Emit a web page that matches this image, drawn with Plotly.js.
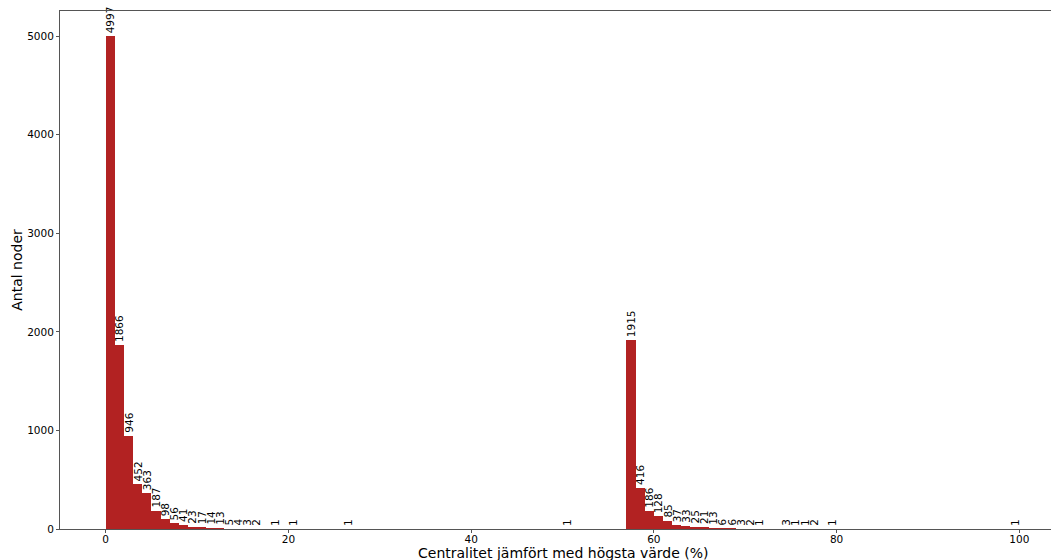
<!DOCTYPE html>
<html>
<head>
<meta charset="utf-8">
<script src="https://cdn.plot.ly/plotly-3.0.1.min.js"></script>
<style>html,body{margin:0;padding:0;background:#fff;overflow:hidden;width:1051px;height:560px;}#chart{width:1066px;height:560px;}</style>
</head>
<body>
<div id="chart"></div>
<script>
// Bin lower edges (% of highest centrality, bins of width 1) and node counts
const binStart = [0,1,2,3,4,5,6,7,8,9,10,11,12,13,14,15,16,18,20,26,50,
                  57,58,59,60,61,62,63,64,65,66,67,68,69,70,71,74,75,76,77,79,99];
const counts   = [4997,1866,946,452,363,187,98,56,41,23,17,14,13,5,4,3,2,1,1,1,1,
                  1915,416,186,128,85,37,33,25,21,13,6,6,3,2,1,3,1,1,2,1,1];
const xTicks = [0,20,40,60,80,100];
const yTicks = [0,1000,2000,3000,4000,5000];
const xTitle = "Centralitet jämfört med högsta värde (%)";
const yTitle = "Antal noder";

const trace = {
  type: 'bar',
  x: binStart,
  y: counts,
  width: binStart.map(() => 1),
  offset: 0,
  marker: {color: '#b22222', line: {width: 0}},
  text: counts.map(String),
  textposition: 'outside',
  textangle: -90,
  constraintext: 'none',
  cliponaxis: false,
  textfont: {family: 'DejaVu Sans', size: 10.5, color: '#000'},
  hoverinfo: 'x+y'
};

const layout = {
  width: 1066, height: 560,
  margin: {l: 60, r: 1, t: 11, b: 31},
  paper_bgcolor: '#fff', plot_bgcolor: '#fff',
  showlegend: false,
  bargap: 0,
  font: {family: 'DejaVu Sans', color: '#000'},
  xaxis: {
    range: [-5, 105],
    tickvals: xTicks, ticktext: xTicks.map(String),
    ticks: 'outside', ticklen: 3, tickcolor: '#555', tickwidth: 1,
    ticklabelstandoff: -3,
    showgrid: false, zeroline: false,
    showline: true, linecolor: '#555', linewidth: 1, mirror: true,
    tickfont: {size: 10.5, color: '#000'},
    automargin: false
  },
  yaxis: {
    range: [0, 5254],
    tickvals: yTicks, ticktext: yTicks.map(String),
    ticks: 'outside', ticklen: 3, tickcolor: '#555', tickwidth: 1,
    showgrid: false, zeroline: false,
    showline: true, linecolor: '#555', linewidth: 1, mirror: true,
    tickfont: {size: 10.5, color: '#000'},
    title: {text: yTitle, font: {size: 14, color: '#000'}, standoff: 1},
    automargin: false
  },
  annotations: [{
    text: xTitle, xref: 'x', yref: 'paper', x: 50, y: 0,
    xanchor: 'center', yanchor: 'top', yshift: -14, showarrow: false,
    font: {size: 14, color: '#000', family: 'DejaVu Sans'}
  }]
};

Plotly.newPlot('chart', [trace], layout, {displayModeBar: false, staticPlot: true});
</script>
</body>
</html>
